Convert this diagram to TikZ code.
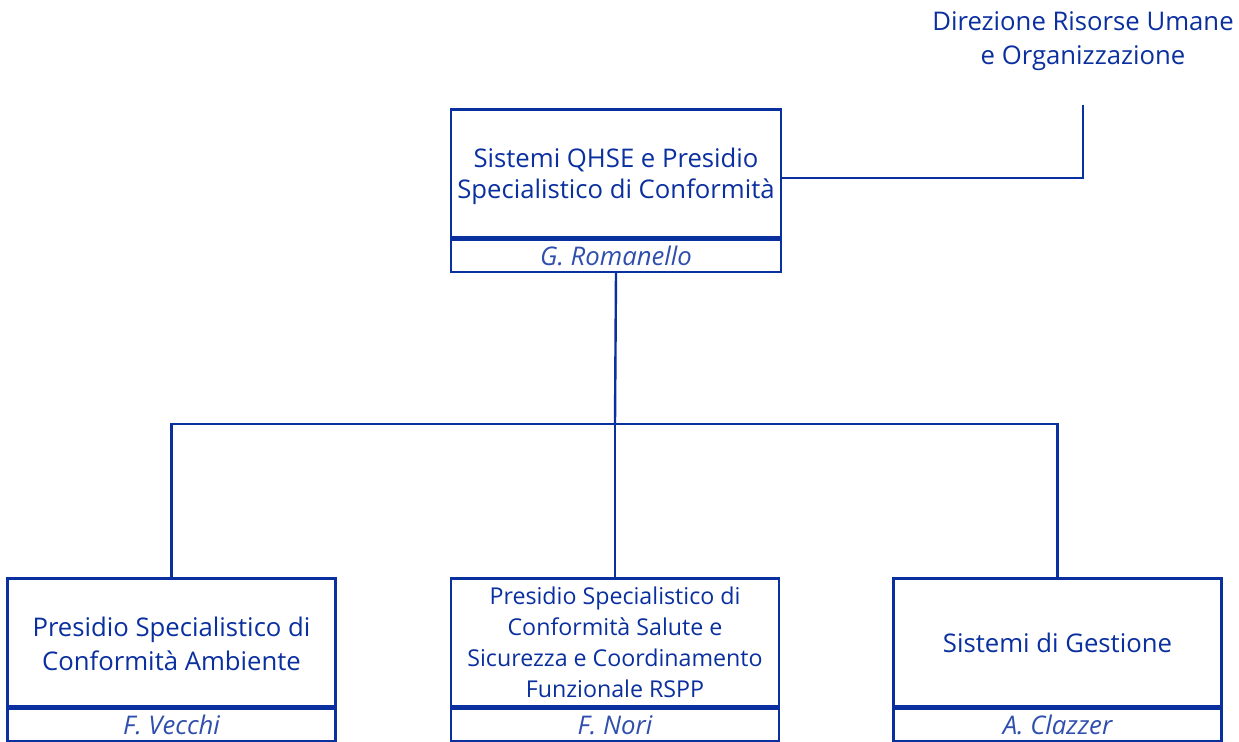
\documentclass[tikz,border=0pt]{standalone}
\usepackage{fontspec}
\setmainfont{Open Sans}
\usepackage{xcolor}
\usetikzlibrary{calc}
\definecolor{orgblue}{HTML}{0A2F9E}

\begin{document}
\begin{tikzpicture}[x=0.5pt, y=-0.5pt, line width=1.2pt, draw=orgblue,
  every node/.style={text=orgblue, font=\fontsize{12.85}{17}\selectfont},
  unitbox/.style={draw=orgblue, line width=1.2pt, align=center, minimum width=164pt, minimum height=64pt, inner sep=0pt},
  namebox/.style={draw=orgblue, line width=1.2pt, minimum width=164pt, minimum height=16pt, inner sep=0pt, text=orgblue!85, font=\fontsize{12.85}{14}\selectfont\itshape}]
  \useasboundingbox (0,0) rectangle (1239,742);
  % head of the unit
  \node[unitbox, minimum width=165pt, font=\fontsize{12.85}{15.8}\selectfont] (qhse) at (616,173.5) {\rule{0pt}{12.5pt}Sistemi QHSE e Presidio\\Specialistico di Conformità};
  \node[namebox, minimum width=165pt, anchor=north] (qhseName) at (qhse.south) {G. Romanello};
  \node[align=center] (dir) at (1083,41) {Direzione Risorse Umane\\e Organizzazione};
  \coordinate (dirLink) at (1083,105);
  % offices
  \node[unitbox] (amb) at (171.5,642.5) {\rule{0pt}{11pt}Presidio Specialistico di\\Conformità Ambiente};
  \node[namebox, anchor=north] (ambName) at (amb.south) {F. Vecchi};
  \node[unitbox, font=\fontsize{11.6}{15.5}\selectfont] (sal) at (615,642.5) {Presidio Specialistico di\\Conformità Salute e\\Sicurezza e Coordinamento\\Funzionale RSPP};
  \node[namebox, anchor=north] (salName) at (sal.south) {F. Nori};
  \node[unitbox] (ges) at (1057.5,642.5) {Sistemi di Gestione};
  \node[namebox, anchor=north] (gesName) at (ges.south) {A. Clazzer};
  \coordinate (bus) at (615,424);
  \draw ($(qhse.east)+(0,4.5)$) -| (dirLink);
  \draw (qhseName.south) -- (bus);
  \draw (amb.north) |- (bus) -| (ges.north);
  \draw (sal.north) -- (bus);
\end{tikzpicture}
\end{document}
